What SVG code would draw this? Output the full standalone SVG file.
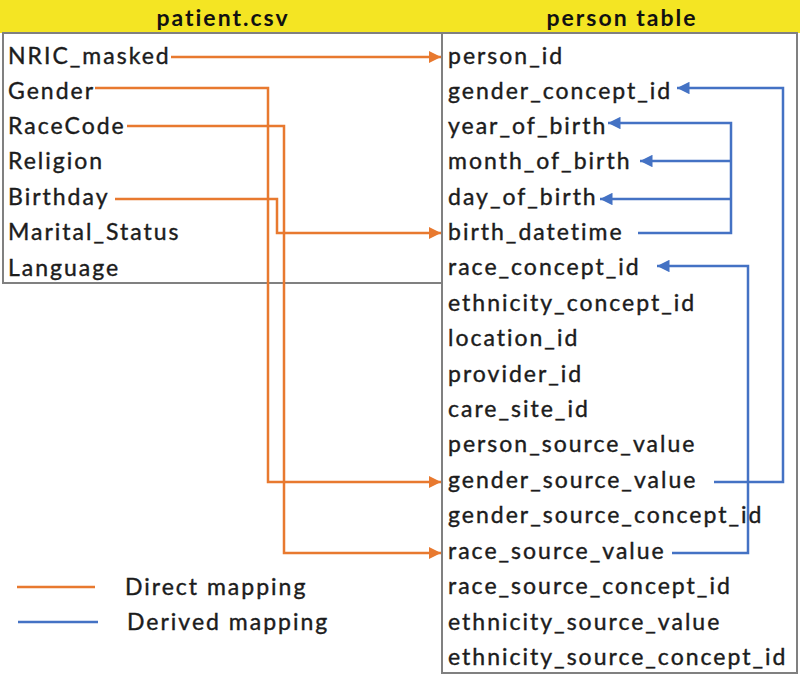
<svg xmlns="http://www.w3.org/2000/svg" width="800" height="676" viewBox="0 0 800 676">
<style>
.t{font-family:Lato,"Open Sans","Liberation Sans",sans-serif;font-size:23px;letter-spacing:2px;fill:#1c1c1c;stroke:#1c1c1c;stroke-width:0.4}
.h{font-family:Lato,"Open Sans","Liberation Sans",sans-serif;font-size:23px;letter-spacing:2px;font-weight:bold;fill:#111}
.box{fill:#fff;stroke:#808080;stroke-width:2}
.o{fill:none;stroke:#E8792F;stroke-width:2.5}
.b{fill:none;stroke:#4472C4;stroke-width:2.5}
</style>
<defs>
<marker id="ao" viewBox="0 0 10 10" refX="10" refY="5" markerWidth="5" markerHeight="5" markerUnits="strokeWidth" orient="auto"><path d="M0,0 L10,5 L0,10 z" fill="#E8792F"/></marker>
<marker id="ab" viewBox="0 0 10 10" refX="10" refY="5" markerWidth="5" markerHeight="5" markerUnits="strokeWidth" orient="auto"><path d="M0,0 L10,5 L0,10 z" fill="#4472C4"/></marker>
</defs>
<rect width="800" height="676" fill="#fff"/>
<rect x="0" y="0" width="800" height="33" fill="#F4E523"/>
<g id="patient">
<rect class="box" x="3" y="33" width="439" height="250"/>
<text class="h" x="223" y="26" text-anchor="middle">patient.csv</text>
<text class="t" x="8" y="64">NRIC_masked</text>
<text class="t" x="8" y="99">Gender</text>
<text class="t" x="8" y="134">RaceCode</text>
<text class="t" x="8" y="169">Religion</text>
<text class="t" x="8" y="205">Birthday</text>
<text class="t" x="8" y="240">Marital_Status</text>
<text class="t" x="8" y="276">Language</text>
</g>
<g id="person">
<rect class="box" x="442" y="33" width="355" height="640"/>
<text class="h" x="622" y="26" text-anchor="middle">person table</text>
<text class="t" x="448" y="64">person_id</text>
<text class="t" x="448" y="99">gender_concept_id</text>
<text class="t" x="448" y="134">year_of_birth</text>
<text class="t" x="448" y="169">month_of_birth</text>
<text class="t" x="448" y="205">day_of_birth</text>
<text class="t" x="448" y="240">birth_datetime</text>
<text class="t" x="448" y="275">race_concept_id</text>
<text class="t" x="448" y="311">ethnicity_concept_id</text>
<text class="t" x="448" y="346">location_id</text>
<text class="t" x="448" y="382">provider_id</text>
<text class="t" x="448" y="417">care_site_id</text>
<text class="t" x="448" y="452">person_source_value</text>
<text class="t" x="448" y="488">gender_source_value</text>
<text class="t" x="448" y="523">gender_source_concept_id</text>
<text class="t" x="448" y="559">race_source_value</text>
<text class="t" x="448" y="594">race_source_concept_id</text>
<text class="t" x="448" y="630">ethnicity_source_value</text>
<text class="t" x="448" y="665">ethnicity_source_concept_id</text>
</g>
<g id="connectors">
<path class="o" d="M171,57 H441" marker-end="url(#ao)"/>
<path class="o" d="M95,88 H268 V482 H441" marker-end="url(#ao)"/>
<path class="o" d="M127,126 H284 V553 H441" marker-end="url(#ao)"/>
<path class="o" d="M115,199 H277 V233 H441" marker-end="url(#ao)"/>
<path class="b" d="M714,482 H783 V88 H677" marker-end="url(#ab)"/>
<path class="b" d="M672,553 H748 V266 H657" marker-end="url(#ab)"/>
<path class="b" d="M638,233 H731 V123 H608" marker-end="url(#ab)"/>
<path class="b" d="M731,161 H640" marker-end="url(#ab)"/>
<path class="b" d="M731,199 H600" marker-end="url(#ab)"/>
</g>
<g id="legend">
<line class="o" x1="17" y1="587" x2="95" y2="587"/>
<line class="b" x1="18" y1="622" x2="98" y2="622"/>
<text class="t" x="125" y="595">Direct mapping</text>
<text class="t" x="127" y="630">Derived mapping</text>
</g>
</svg>
